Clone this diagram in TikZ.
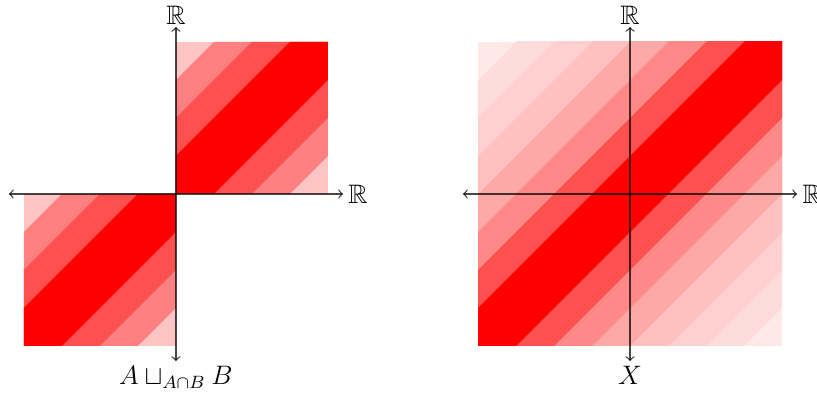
\documentclass[tikz,border=0pt]{standalone}
\usepackage{amssymb}
\definecolor{ra}{HTML}{FF0000}
\definecolor{rb}{HTML}{FF5050}
\definecolor{rc}{HTML}{FF8888}
\definecolor{rd}{HTML}{FFA8A8}
\definecolor{re}{HTML}{FFC0C0}
\definecolor{rf}{HTML}{FFD0D0}
\definecolor{rg}{HTML}{FFDCDC}
\definecolor{rh}{HTML}{FFE8E8}
\definecolor{lc}{HTML}{FF8080}
\definecolor{ld}{HTML}{FFC4C4}
\tikzset{
  axisline/.style={<->, >=to, draw=black, draw opacity=0.72, line width=0.6pt},
  lbl/.style={inner sep=2.2pt, font=\large},
  toplbl/.style={lbl, inner sep=0.8pt, anchor=south},
}
\newcommand{\bandfill}[2]{% #1 colour, #2 half width
  \fill[#1] (-20,-20-#2) -- (20,20-#2) -- (20,20+#2) -- (-20,-20+#2) -- cycle;}
\begin{document}
\begin{tikzpicture}[x=0.6cm,y=0.6cm]
\useasboundingbox (-4.63,-5.37) rectangle (16.87,5.105);
% left picture: two squares
\begin{scope}
  \clip (0,0) rectangle (4,4) (-4,-4) rectangle (0,0);
  \fill[ld] (-4,-4) rectangle (4,4);
  \bandfill{lc}{3}
  \bandfill{rb}{2}
  \bandfill{ra}{1}
\end{scope}
% right picture
\begin{scope}[xshift=11.95*0.6cm]
  \clip (-4,-4) rectangle (4,4);
  \fill[rh] (-4,-4) rectangle (4,4);
  \bandfill{rg}{7}
  \bandfill{rf}{6}
  \bandfill{re}{5}
  \bandfill{rd}{4}
  \bandfill{rc}{3}
  \bandfill{rb}{2}
  \bandfill{ra}{1}
\end{scope}
% left axes
\coordinate (lw) at (-4.4,0);
\coordinate (le) at (4.4,0);
\coordinate (ln) at (0,4.4);
\coordinate (ls) at (0,-4.4);
\draw[axisline] (lw) -- (le);
\draw[axisline] (ls) -- (ln);
\node[toplbl] (lnl) at (ln) {$\mathbb{R}$};
\node[lbl, anchor=west] (lel) at (le) {$\mathbb{R}$};
\node[lbl, anchor=north] (lsl) at (ls) {$A\sqcup_{A\cap B}B$};
% right axes
\coordinate (rw) at (7.55,0);
\coordinate (re) at (16.35,0);
\coordinate (rn) at (11.95,4.4);
\coordinate (rs) at (11.95,-4.4);
\draw[axisline] (rw) -- (re);
\draw[axisline] (rs) -- (rn);
\node[toplbl] (rnl) at (rn) {$\mathbb{R}$};
\node[lbl, anchor=west] (rel) at (re) {$\mathbb{R}$};
\node[lbl, anchor=north] (rsl) at (rs) {$X$};
\end{tikzpicture}
\end{document}
